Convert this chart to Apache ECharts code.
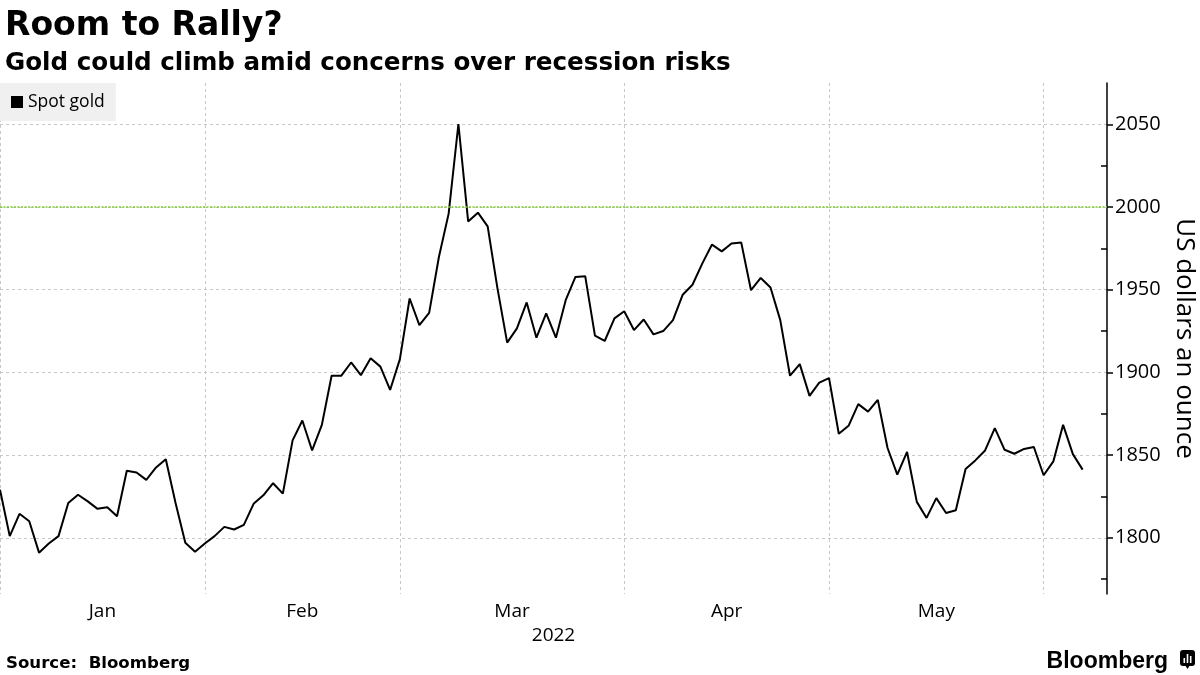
<!DOCTYPE html>
<html>
<head>
<meta charset="utf-8">
<script src="https://cdn.jsdelivr.net/npm/echarts@6/dist/echarts.min.js"></script>
<style>
  html, body { margin: 0; padding: 0; background: #ffffff; }
  #chart { width: 1200px; height: 675px; }
</style>
</head>
<body>
<div id="chart"></div>
<script>
// Trading days (weekdays) shown on the chart
const dates = [
  '2021-12-31',
  '2022-01-03','2022-01-04','2022-01-05','2022-01-06','2022-01-07',
  '2022-01-10','2022-01-11','2022-01-12','2022-01-13','2022-01-14',
  '2022-01-17','2022-01-18','2022-01-19','2022-01-20','2022-01-21',
  '2022-01-24','2022-01-25','2022-01-26','2022-01-27','2022-01-28',
  '2022-01-31',
  '2022-02-01','2022-02-02','2022-02-03','2022-02-04',
  '2022-02-07','2022-02-08','2022-02-09','2022-02-10','2022-02-11',
  '2022-02-14','2022-02-15','2022-02-16','2022-02-17','2022-02-18',
  '2022-02-21','2022-02-22','2022-02-23','2022-02-24','2022-02-25',
  '2022-02-28',
  '2022-03-01','2022-03-02','2022-03-03','2022-03-04',
  '2022-03-07','2022-03-08','2022-03-09','2022-03-10','2022-03-11',
  '2022-03-14','2022-03-15','2022-03-16','2022-03-17','2022-03-18',
  '2022-03-21','2022-03-22','2022-03-23','2022-03-24','2022-03-25',
  '2022-03-28','2022-03-29','2022-03-30','2022-03-31',
  '2022-04-01',
  '2022-04-04','2022-04-05','2022-04-06','2022-04-07','2022-04-08',
  '2022-04-11','2022-04-12','2022-04-13','2022-04-14','2022-04-15',
  '2022-04-18','2022-04-19','2022-04-20','2022-04-21','2022-04-22',
  '2022-04-25','2022-04-26','2022-04-27','2022-04-28','2022-04-29',
  '2022-05-02','2022-05-03','2022-05-04','2022-05-05','2022-05-06',
  '2022-05-09','2022-05-10','2022-05-11','2022-05-12','2022-05-13',
  '2022-05-16','2022-05-17','2022-05-18','2022-05-19','2022-05-20',
  '2022-05-23','2022-05-24','2022-05-25','2022-05-26','2022-05-27',
  '2022-05-30','2022-05-31',
  '2022-06-01','2022-06-02','2022-06-03','2022-06-06'
];

// Spot gold, US dollars an ounce
const spotGold = [
  1829,
  1801, 1814.5, 1810, 1791, 1796.5,
  1801, 1821, 1826, 1822, 1817.5,
  1818.5, 1813, 1840.5, 1839.5, 1835,
  1842.5, 1847.5, 1821, 1797, 1791.5,
  1796.5,
  1801, 1806.6, 1805, 1807.8,
  1820.5, 1825.7, 1833, 1826.7, 1858.9,
  1870.9, 1852.8, 1868.3, 1898, 1898,
  1906, 1898.3, 1908.5, 1903.5, 1889.4,
  1908,
  1944.7, 1928.6, 1936, 1969.8,
  1996, 2050.2, 1991.3, 1996.6, 1988.3,
  1951, 1918, 1926.6, 1942.3, 1921,
  1935.7, 1921, 1943.7, 1957.7, 1958.2,
  1922.2, 1919, 1932.7, 1937,
  1925.6,
  1932, 1923, 1925, 1931.6, 1947,
  1953, 1965.8, 1977.3, 1973.2, 1977.9,
  1978.5, 1949.7, 1957.1, 1951.3, 1931.6,
  1898, 1905, 1885.8, 1893.8, 1896.5,
  1862.9, 1867.7, 1880.8, 1876.3, 1883.4,
  1854.3, 1838.2, 1851.9, 1821.7, 1812,
  1824, 1815, 1816.6, 1841.6, 1846.8,
  1852.8, 1866.3, 1853.2, 1850.8, 1853.7,
  1854.9, 1837.8,
  1846.2, 1868.3, 1850.6, 1841.2
];

const monthNames = ['Jan', 'Feb', 'Mar', 'Apr', 'May'];
const yTicks = [1800, 1850, 1900, 1950, 2000, 2050];
const yMinorTicks = [1775, 1825, 1875, 1925, 1975, 2025];
const referenceLevel = 2000;
const yearLabel = '2022';

// Month boundary indices: last trading day of each month (and first point)
const boundaries = [0];
for (let i = 1; i < dates.length; i++) {
  if (i + 1 < dates.length && dates[i + 1].slice(5, 7) !== dates[i].slice(5, 7)) boundaries.push(i);
}
const labelPositions = [];
for (let k = 0; k + 1 < boundaries.length && k < monthNames.length; k++) {
  labelPositions.push((boundaries[k] + boundaries[k + 1]) / 2);
}

const lineData = spotGold.map((v, i) => [i, v]);

const chart = echarts.init(document.getElementById('chart'), null, { renderer: 'canvas' });

const gridColor = '#c8c8c8';
const sansFont = 'Open Sans';

chart.setOption({
  animation: false,
  backgroundColor: '#ffffff',
  title: [
    {
      text: 'Room to Rally?',
      left: 0, top: 5,
      textStyle: { fontFamily: 'DejaVu Sans', fontWeight: 'bold', fontSize: 33, color: '#000' }
    },
    {
      text: 'Gold could climb amid concerns over recession risks',
      left: 0, top: 46,
      textStyle: { fontFamily: 'DejaVu Sans', fontWeight: 'bold', fontSize: 24.6, color: '#000' }
    },
    {
      text: 'Source:  Bloomberg',
      left: 1, top: 650,
      textStyle: { fontFamily: 'DejaVu Sans', fontWeight: 'bold', fontSize: 16.6, color: '#000' }
    },
    {
      text: 'Bloomberg',
      right: 27, top: 645,
      textStyle: { fontFamily: 'Liberation Sans', fontWeight: 'bold', fontSize: 23, color: '#000' }
    }
  ],
  graphic: [
    {
      type: 'group', right: 5, top: 650,
      children: [
        { type: 'rect', shape: { x: 0, y: 0, width: 15, height: 16, r: 3 }, style: { fill: '#000' } },
        { type: 'polygon', shape: { points: [[5, 15], [10, 15], [7.5, 19]] }, style: { fill: '#000' } },
        { type: 'rect', shape: { x: 3.5, y: 8, width: 1.6, height: 5 }, style: { fill: '#fff' } },
        { type: 'rect', shape: { x: 6.7, y: 4, width: 1.6, height: 9 }, style: { fill: '#fff' } },
        { type: 'rect', shape: { x: 9.9, y: 6, width: 1.6, height: 7 }, style: { fill: '#fff' } }
      ]
    }
  ],
  legend: {
    left: 0, top: 83,
    padding: [10, 11, 10, 11],
    backgroundColor: '#f0f0f0',
    itemWidth: 12, itemHeight: 12,
    icon: 'rect',
    textStyle: { fontFamily: sansFont, fontSize: 17.5, color: '#000' },
    data: [{ name: 'Spot gold', itemStyle: { color: '#000' } }]
  },
  grid: { left: 0, right: 93, top: 83, bottom: 81, containLabel: false, outerBoundsMode: 'none' },
  xAxis: {
    type: 'value',
    min: 0,
    max: dates.length - 1 + 2.5,
    axisLine: { show: false, onZero: false },
    axisTick: { show: false, customValues: boundaries },
    splitLine: { show: true, lineStyle: { color: gridColor, type: [3, 3], width: 1 } },
    axisLabel: {
      customValues: labelPositions,
      formatter: (val) => {
        const k = labelPositions.indexOf(val);
        return k >= 0 ? monthNames[k] : '';
      },
      fontFamily: sansFont, fontSize: 19, color: '#000', margin: 8
    },
    name: yearLabel,
    nameLocation: 'middle',
    nameGap: 30,
    nameTextStyle: { fontFamily: sansFont, fontSize: 19, color: '#000' }
  },
  yAxis: [
    {
      type: 'value',
      position: 'right',
      min: 1766, max: 2075,
      axisLine: { show: true, onZero: false, lineStyle: { color: '#000', width: 1.5 } },
      axisTick: { show: true, inside: false, length: 6, customValues: yTicks, lineStyle: { color: '#000', width: 1.5 } },
      axisLabel: {
        customValues: yTicks,
        formatter: (v) => String(v),
        fontFamily: sansFont, fontSize: 20, color: '#000', margin: 8
      },
      splitLine: { show: true, lineStyle: { color: gridColor, type: [3, 3], width: 1 } },
      name: 'US dollars an ounce',
      nameLocation: 'middle',
      nameRotate: -90,
      nameGap: 58,
      nameTextStyle: { fontFamily: sansFont, fontSize: 26, color: '#000' }
    },
    {
      type: 'value',
      position: 'right',
      offset: 0,
      min: 1766, max: 2075,
      axisLine: { show: false, onZero: false },
      axisTick: { show: true, inside: true, length: 6, customValues: yMinorTicks, lineStyle: { color: '#000', width: 1.5 } },
      axisLabel: { show: false },
      splitLine: { show: false }
    }
  ],
  series: [
    {
      name: 'Spot gold',
      type: 'line',
      data: lineData,
      xAxisIndex: 0,
      yAxisIndex: 0,
      showSymbol: false,
      symbol: 'none',
      lineStyle: { color: '#000', width: 2 },
      itemStyle: { color: '#000' },
      markLine: {
        silent: true,
        symbol: 'none',
        label: { show: false },
        lineStyle: { color: '#7ccc2a', type: [2, 1.5], width: 1.5 },
        data: [{ yAxis: referenceLevel }]
      }
    }
  ]
});
</script>
</body>
</html>
